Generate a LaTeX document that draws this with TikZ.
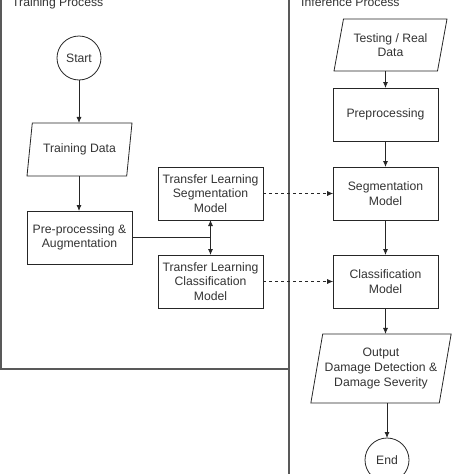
\documentclass[tikz,border=0pt]{standalone}
\usepackage{fontspec}
\setmainfont{Liberation Sans}
\usetikzlibrary{shapes.geometric,arrows.meta}

\tikzset{
    flowbox/.style={rectangle, minimum width=105pt, minimum height=53pt},
    iobox/.style={trapezium, trapezium stretches body, trapezium left angle=#1, trapezium right angle=180-#1},
    termbox/.style={circle, minimum size=44pt, inner sep=0pt},
}

\begin{document}
\begin{tikzpicture}[x=1pt, y=-1pt, font=\fontsize{12.2}{14.6}\selectfont, text=black!80]
    \useasboundingbox (0,0) rectangle (474,474);
    \clip (0,0) rectangle (474,474);
    \begin{scope}[shift={(0,0)}]
        % panels
        \begin{scope}[draw=black!65, line width=1.1pt]
            \draw (1,-40) rectangle (289,369);
            \draw (289,-40) rectangle (530,530);
        \end{scope}
        \node[anchor=base west, inner sep=0pt] (trainTitle) at (12,6) {Training Process};
        \node[anchor=base west, inner sep=0pt] (inferTitle) at (301,6) {Inference Process};
        \begin{scope}[every node/.style={draw=black!85, thick, align=center, inner sep=2pt, outer sep=0pt}]
            \node[termbox] (start) at (79,58) {Start};
            \node[iobox=71, minimum width=105pt, minimum height=53pt] (trainData) at (79.5,149.5) {Training Data};
            \node[flowbox] (preAug) at (79.5,237.5) {Pre-processing \&\\Augmentation};
            \node[flowbox] (tlSeg) at (210.5,193.5) {Transfer Learning\\Segmentation\\Model};
            \node[flowbox] (tlCls) at (210.5,281.5) {Transfer Learning\\Classification\\Model};
            \node[iobox=71, minimum width=113pt, minimum height=52pt] (testData) at (390.5,45) {Testing / Real\\Data};
            \node[flowbox] (prep) at (385.5,114.5) {Preprocessing};
            \node[flowbox] (segModel) at (385.5,193.5) {Segmentation\\Model};
            \node[flowbox] (clsModel) at (385.5,281.5) {Classification\\Model};
            \node[iobox=75, minimum width=132pt, minimum height=69pt] (output) at (381,368.5) {Output\\Damage Detection \&\\Damage Severity};
            \node[termbox] (end) at (387,460) {End};
        \end{scope}
        \coordinate (join) at (tlSeg.south |- preAug.east);
        \begin{scope}[every edge/.style={draw=black!85, thick, -{Latex[length=6pt,width=5pt]}}]
            \path (start) edge (start |- trainData.north);
            \path (trainData.south -| start) edge (preAug.north -| start);
            \path (preAug.east) edge [-] (join);
            \path (tlSeg) edge [{Latex[length=6pt,width=5pt]}-{Latex[length=6pt,width=5pt]}] (tlCls);
            \path (tlSeg) edge [dash pattern=on 3pt off 3pt, thin] (segModel);
            \path (tlCls) edge [dash pattern=on 3pt off 3pt, thin] (clsModel);
            \path (prep.north |- testData.south) edge (prep);
            \path (prep) edge (segModel);
            \path (segModel) edge (clsModel);
            \path (clsModel) edge (clsModel.south |- output.north);
            \path (end.north |- output.south) edge (end);
        \end{scope}
    \end{scope}
\end{tikzpicture}
\end{document}
